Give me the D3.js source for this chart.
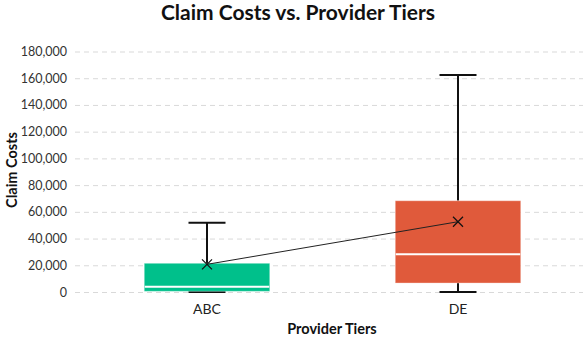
<!DOCTYPE html>
<html>
<head>
<meta charset="utf-8">
<script src="https://cdn.jsdelivr.net/npm/d3@7"></script>
<style>
  html, body { margin: 0; padding: 0; background: #fff; }
  svg { display: block; font-family: Lato, "Noto Sans", sans-serif; }
</style>
</head>
<body>
<svg id="chart" width="583" height="339"></svg>
<script>
// Provider tiers and their claim-cost distributions
const tiers = ["ABC", "DE"];
const minValues = [0, 0];
const q1Values = [500, 6700];
const medianValues = [4000, 28200];
const q3Values = [21500, 68300];
const maxValues = [51900, 162400];
const meanValues = [20700, 52600];
const tierColors = ["#00c08b", "#e05a3b"];
const yTicks = [0, 20000, 40000, 60000, 80000, 100000, 120000, 140000, 160000, 180000];

const svg = d3.select("#chart");

const x = d3.scaleBand().domain(tiers).range([81.5, 583.5]).paddingInner(0).paddingOuter(0);
const y = d3.scaleLinear().domain([0, 180000]).range([292, 51.5]);
const boxW = x.bandwidth() * 0.5;
const capW = 37;

// Title
svg.append("text")
  .attr("x", 298).attr("y", 20)
  .attr("text-anchor", "middle")
  .attr("font-size", 21).attr("font-weight", 700).attr("fill", "#111")
  .text("Claim Costs vs. Provider Tiers");

// Y axis with dashed gridlines
const yAxis = d3.axisLeft(y).tickValues(yTicks).tickFormat(d3.format(",")).tickSize(0).tickPadding(8);
const gy = svg.append("g").attr("transform", "translate(75,0)").call(yAxis);
gy.select(".domain").remove();
gy.selectAll("text").attr("font-size", 12.5).attr("fill", "#333").attr("font-family", "Lato, sans-serif");
gy.selectAll(".tick").append("line")
  .attr("x1", 0).attr("x2", 508)
  .attr("stroke", "#d9d9d9").attr("stroke-width", 1).attr("stroke-dasharray", "5,4");

// X axis labels
const xAxis = d3.axisBottom(x).tickSize(0).tickPadding(8);
const gx = svg.append("g").attr("transform", "translate(0,296)").call(xAxis);
gx.select(".domain").remove();
gx.selectAll("text").attr("font-size", 14).attr("fill", "#222").attr("font-family", "Lato, sans-serif");

// Axis titles
svg.append("text")
  .attr("x", 332).attr("y", 334)
  .attr("text-anchor", "middle")
  .attr("font-size", 14.5).attr("font-weight", 700).attr("fill", "#111")
  .text("Provider Tiers");
svg.append("text")
  .attr("transform", "translate(17,170) rotate(-90)")
  .attr("text-anchor", "middle")
  .attr("font-size", 14.5).attr("font-weight", 700).attr("fill", "#111")
  .text("Claim Costs");

const data = tiers.map((t, i) => ({
  tier: t, min: minValues[i], q1: q1Values[i], median: medianValues[i],
  q3: q3Values[i], max: maxValues[i], mean: meanValues[i], color: tierColors[i]
}));

const g = svg.append("g");
const cx = d => x(d.tier) + x.bandwidth() / 2;

// Whiskers
g.selectAll(".whisker-up").data(data).join("line")
  .attr("x1", cx).attr("x2", cx)
  .attr("y1", d => y(d.q3)).attr("y2", d => y(d.max))
  .attr("stroke", "#111").attr("stroke-width", 2);
g.selectAll(".whisker-down").data(data).join("line")
  .attr("x1", cx).attr("x2", cx)
  .attr("y1", d => y(d.q1)).attr("y2", d => y(d.min))
  .attr("stroke", "#111").attr("stroke-width", 2);
g.selectAll(".cap-top").data(data).join("line")
  .attr("x1", d => cx(d) - capW / 2).attr("x2", d => cx(d) + capW / 2)
  .attr("y1", d => y(d.max)).attr("y2", d => y(d.max))
  .attr("stroke", "#111").attr("stroke-width", 2);
g.selectAll(".cap-bottom").data(data).join("line")
  .attr("x1", d => cx(d) - capW / 2).attr("x2", d => cx(d) + capW / 2)
  .attr("y1", d => y(d.min)).attr("y2", d => y(d.min))
  .attr("stroke", "#111").attr("stroke-width", 2);

// Boxes
g.selectAll(".box").data(data).join("rect")
  .attr("x", d => cx(d) - boxW / 2)
  .attr("width", boxW)
  .attr("y", d => y(d.q3))
  .attr("height", d => y(d.q1) - y(d.q3))
  .attr("fill", d => d.color)
  .attr("stroke", "rgba(255,255,255,0.35)").attr("stroke-width", 1);

// Medians
g.selectAll(".median").data(data).join("line")
  .attr("x1", d => cx(d) - boxW / 2 + 0.5).attr("x2", d => cx(d) + boxW / 2 - 0.5)
  .attr("y1", d => y(d.median)).attr("y2", d => y(d.median))
  .attr("stroke", "#fff").attr("stroke-width", 2);

// Line joining the means
const meanLine = d3.line().x(cx).y(d => y(d.mean));
g.append("path").datum(data)
  .attr("d", meanLine)
  .attr("fill", "none").attr("stroke", "#222").attr("stroke-width", 1);

// Mean markers
const m = 5;
g.selectAll(".mean").data(data).join("path")
  .attr("d", d => {
    const px = cx(d), py = y(d.mean);
    return `M${px - m},${py - m}L${px + m},${py + m}M${px - m},${py + m}L${px + m},${py - m}`;
  })
  .attr("stroke", "#111").attr("stroke-width", 1.2).attr("fill", "none");
</script>
</body>
</html>
